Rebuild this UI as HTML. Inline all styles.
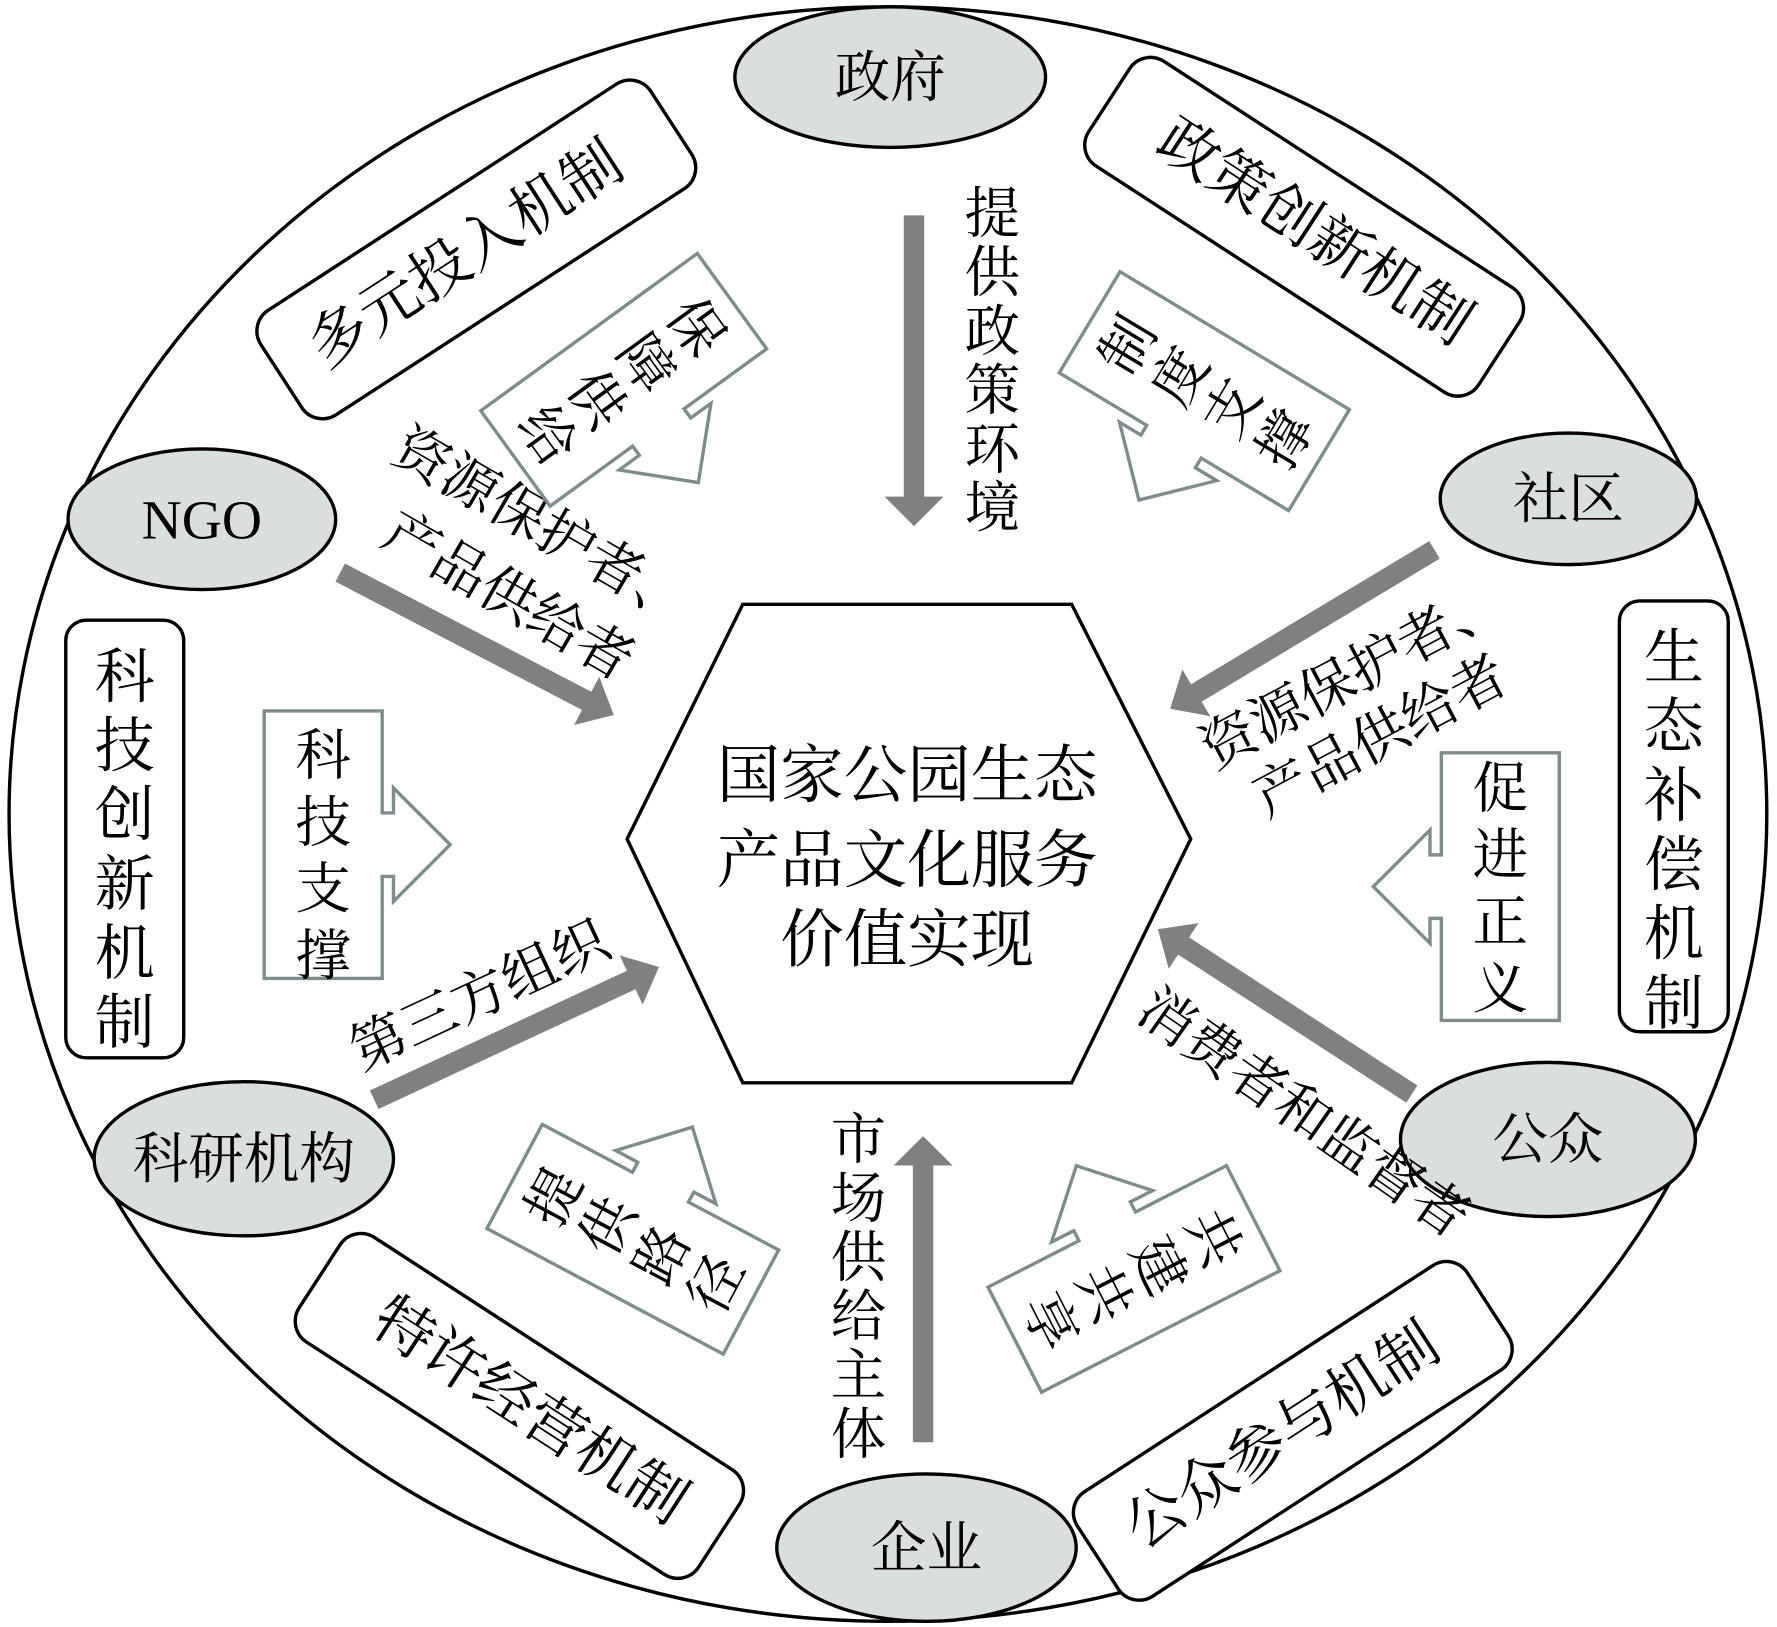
<!DOCTYPE html>
<html><head><meta charset="utf-8"><style>
html,body{margin:0;padding:0;background:#fff;}
svg{display:block;}
text{font-family:"Liberation Serif","Noto Serif CJK SC",serif;fill:#000;}
</style></head><body>
<svg width="1777" height="1627" viewBox="0 0 1567 1435" preserveAspectRatio="none" xmlns="http://www.w3.org/2000/svg">
<defs>
<path id="hr" d="M-52,-118 H52 V-28 H62 V-50 L112,0 L62,50 V28 H52 V118 H-52 Z" fill="#fff" stroke="#7f8c8d" stroke-width="3"/>
<path id="hl" d="M52,-118 H-52 V-28 H-62 V-50 L-112,0 L-62,50 V28 H-52 V118 H52 Z" fill="#fff" stroke="#7f8c8d" stroke-width="3"/>
</defs>
<ellipse cx="783" cy="718" rx="775" ry="712" fill="#fff" stroke="#000" stroke-width="3"/>

<polygon points="553,740 655,533 945,533 1050,740 945,955 655,955" fill="#fff" stroke="#000" stroke-width="3"/>
<g font-size="56" text-anchor="middle">
<text x="800" y="703">国家公园生态</text>
<text x="800" y="778">产品文化服务</text>
<text x="800" y="848">价值实现</text>
</g>

<g fill="#d9dfdc" stroke="#000" stroke-width="3">
<ellipse cx="785" cy="68" rx="137" ry="62"/>
<ellipse cx="178" cy="458" rx="118" ry="62"/>
<ellipse cx="1383" cy="440" rx="113" ry="58"/>
<ellipse cx="215" cy="1022" rx="132" ry="68"/>
<ellipse cx="1365" cy="1005" rx="130" ry="68"/>
<ellipse cx="817" cy="1365" rx="132" ry="65"/>
</g>
<g font-size="49" text-anchor="middle">
<text x="785" y="85">政府</text>
<text x="178" y="475">NGO</text>
<text x="1383" y="457">社区</text>
<text x="215" y="1039">科研机构</text>
<text x="1365" y="1022">公众</text>
<text x="817" y="1382">企业</text>
</g>

<g fill="#fff" stroke="#000" stroke-width="3">
<rect x="-205" y="-55" width="410" height="110" rx="22" transform="translate(420,220) rotate(-33)"/>
<rect x="-205" y="-55" width="410" height="110" rx="22" transform="translate(1150,200) rotate(33)"/>
<rect x="-210" y="-55" width="420" height="110" rx="22" transform="translate(458,1240) rotate(33)"/>
<rect x="-205" y="-55" width="410" height="110" rx="22" transform="translate(1140,1262) rotate(-33)"/>
<rect x="58" y="547" width="104" height="386" rx="18"/>
<rect x="1428" y="530" width="96" height="380" rx="18"/>
</g>
<g font-size="53" text-anchor="middle">
<text transform="translate(420,239) rotate(-33)">多元投入机制</text>
<text transform="translate(1150,219) rotate(33)">政策创新机制</text>
<text transform="translate(458,1259) rotate(33)">特许经营机制</text>
<text transform="translate(1140,1281) rotate(-33)">公众参与机制</text>
<text x="110" y="615">科</text><text x="110" y="676">技</text><text x="110" y="737">创</text><text x="110" y="798">新</text><text x="110" y="859">机</text><text x="110" y="920">制</text>
<text x="1476" y="598">生</text><text x="1476" y="659">态</text><text x="1476" y="720">补</text><text x="1476" y="781">偿</text><text x="1476" y="842">机</text><text x="1476" y="903">制</text>
</g>

<g fill="#808080">
<polygon points="797,190 815,190 815,438 832,438 806,464 780,438 797,438"/>
<polygon points="805,1272 823,1272 823,1028 840,1028 814,1002 788,1028 805,1028"/>
<g transform="translate(300,505) rotate(27.5)"><polygon points="0,-9 245,-9 245,-24 272,0 245,24 245,9 0,9"/></g>
<g transform="translate(1265,485) rotate(149)"><polygon points="0,-9 245,-9 245,-24 272,0 245,24 245,9 0,9"/></g>
<g transform="translate(330,970) rotate(-25)"><polygon points="0,-9 250,-9 250,-24 277,0 250,24 250,9 0,9"/></g>
<g transform="translate(1245,965) rotate(-147)"><polygon points="0,-9 240,-9 240,-24 267,0 240,24 240,9 0,9"/></g>
</g>

<g font-size="49" text-anchor="middle">
<text x="875" y="205">提</text><text x="875" y="257">供</text><text x="875" y="309">政</text><text x="875" y="361">策</text><text x="875" y="413">环</text><text x="875" y="465">境</text>
<text x="757" y="1022">市</text><text x="757" y="1074">场</text><text x="757" y="1126">供</text><text x="757" y="1178">给</text><text x="757" y="1230">主</text><text x="757" y="1282">体</text>
<text transform="translate(470,478) rotate(30)">资源保护者、</text>
<text transform="translate(440,540) rotate(30)">产品供给者</text>
<text transform="translate(1200,610) rotate(-28)">资源保护者、</text>
<text transform="translate(1225,664) rotate(-28)">产品供给者</text>
<text transform="translate(430,893) rotate(-25)">第三方组织</text>
<text transform="translate(1140,995) rotate(35)">消费者和监督者</text>
</g>

<g transform="translate(285,745)"><use href="#hr"/></g>
<g transform="translate(1323,782)"><use href="#hl"/></g>
<g transform="translate(550,335) rotate(54)"><use href="#hr"/></g>
<g transform="translate(1062,345) rotate(-59)"><use href="#hl"/></g>
<g transform="translate(558,1093) rotate(-62)"><use href="#hr"/></g>
<g transform="translate(1000,1128) rotate(63)"><use href="#hl"/></g>
<g font-size="49" text-anchor="middle">
<text x="285" y="683">科</text><text x="285" y="742">技</text><text x="285" y="801">支</text><text x="285" y="860">撑</text>
<text x="1323" y="712">促</text><text x="1323" y="771">进</text><text x="1323" y="830">正</text><text x="1323" y="889">义</text>
<g transform="translate(550,335) rotate(54)"><text x="0" y="-62">保</text><text x="0" y="-8">障</text><text x="0" y="46">供</text><text x="0" y="100">给</text></g>
<g transform="translate(1062,345) rotate(-59)"><text x="0" y="-62">制</text><text x="0" y="-8">度</text><text x="0" y="46">支</text><text x="0" y="100">撑</text></g>
<g transform="translate(558,1093) rotate(-62)"><text x="0" y="-62">提</text><text x="0" y="-8">供</text><text x="0" y="46">路</text><text x="0" y="100">径</text></g>
<g transform="translate(1000,1128) rotate(63)"><text x="0" y="-62">共</text><text x="0" y="-8">建</text><text x="0" y="46">共</text><text x="0" y="100">享</text></g>
</g>
</svg>
</body></html>
